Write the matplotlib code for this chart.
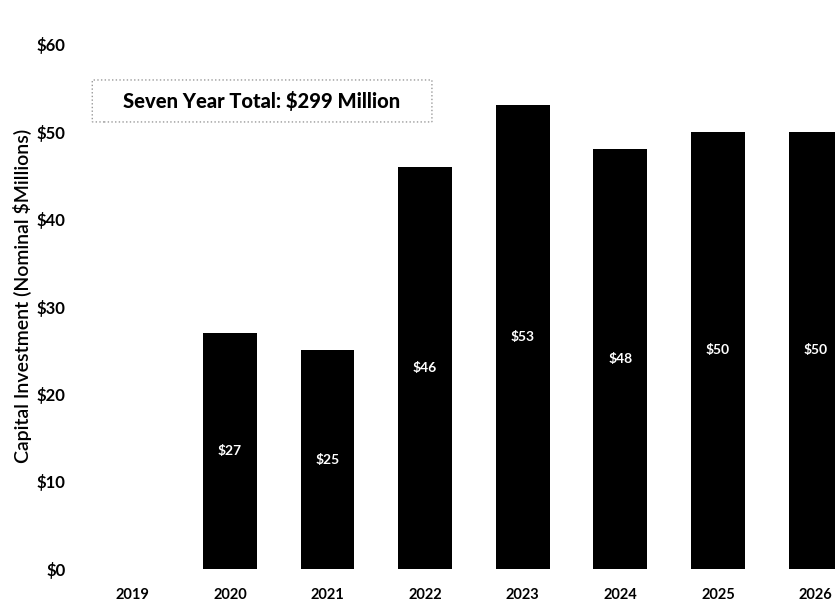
import numpy as np
import matplotlib.pyplot as plt
from matplotlib.patches import FancyBboxPatch

plt.rcParams['font.family'] = ['Lato', 'DejaVu Sans']

years = ['2019', '2020', '2021', '2022', '2023', '2024', '2025', '2026']
capex = [0, 27, 25, 46, 53, 48, 50, 50]
bar_labels = ['', '$27', '$25', '$46', '$53', '$48', '$50', '$50']
total_text = 'Seven Year Total: $299 Million'


def main():
    fig = plt.figure(figsize=(8.35, 6.04), dpi=100)
    ax = fig.add_axes([0.10, 0.058, 0.90, 0.869])
    x = np.arange(len(years))
    ax.bar(x, capex, width=0.55, color='black')
    for xi, v, lab in zip(x, capex, bar_labels):
        if lab:
            ax.text(xi, v / 2, lab, ha='center', va='center', color='white',
                    fontsize=10, fontweight='bold')
    ax.set_xlim(-0.5, 7.2)
    ax.set_ylim(0, 60)
    ax.set_yticks(np.arange(0, 61, 10))
    ax.set_yticklabels(['$%d' % t for t in range(0, 61, 10)], fontsize=12, fontweight='bold')
    ax.set_xticks(x)
    ax.set_xticklabels(years, fontsize=10.5, fontweight='bold')
    ax.tick_params(length=0, pad=14)
    ax.tick_params(axis='y', pad=13)
    for s in ax.spines.values():
        s.set_visible(False)
    ax.set_ylabel(r'Capital Investment (Nominal \$Millions)', fontsize=14,
                  fontweight='semibold')
    ax.yaxis.set_label_coords(-0.069, 0.52)

    # rounded dotted box behind the total
    box = FancyBboxPatch((-0.41, 51.1), 3.48, 4.8,
                         boxstyle='round,pad=0,rounding_size=0.12',
                         fc='white', ec='#999999', ls=':', lw=1,
                         mutation_aspect=8.75 / 97.4, clip_on=False, zorder=3)
    ax.add_patch(box)
    ax.text(1.32, 53.5, total_text, ha='center', va='center', fontsize=14.5,
            fontweight='black', zorder=4)
    fig.savefig('out.png', dpi=100)


if __name__ == '__main__':
    main()
